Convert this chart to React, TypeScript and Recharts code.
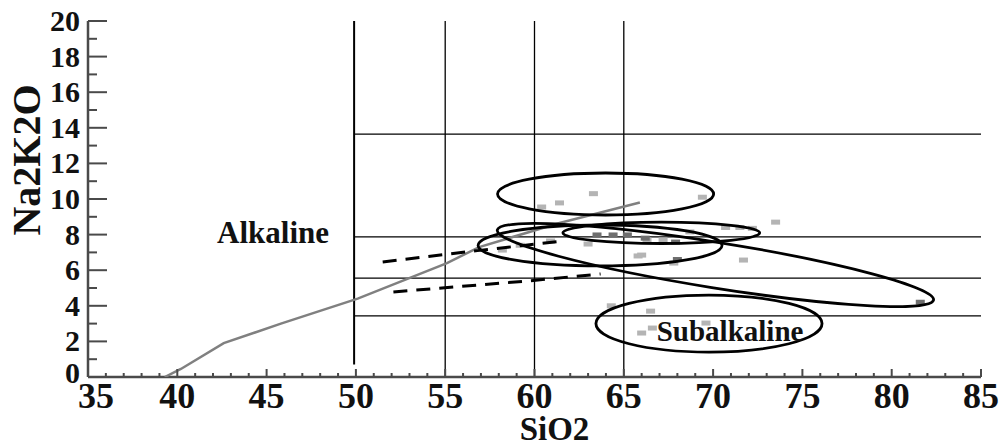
import React from 'react';
import { ComposedChart, Scatter, XAxis, YAxis, ReferenceLine } from 'recharts';

// chart frame
const W = 1000;
const H = 447;
const MARGIN = { top: 21, right: 19, left: 0, bottom: 0 };
const Y_AXIS_W = 88;
const X_AXIS_H = 70;
const X_DOMAIN: [number, number] = [35, 85];
const Y_DOMAIN: [number, number] = [0, 20];
const PLOT_W = W - MARGIN.left - MARGIN.right - Y_AXIS_W;
const PLOT_H = H - MARGIN.top - MARGIN.bottom - X_AXIS_H;
const PX_X = PLOT_W / (X_DOMAIN[1] - X_DOMAIN[0]);
const PX_Y = PLOT_H / (Y_DOMAIN[1] - Y_DOMAIN[0]);

const FONT = '"Liberation Serif", "Times New Roman", serif';

// ticks: labelled every 5 (x) / 2 (y), minor every 1
const xTicks: number[] = [];
for (let v = 35; v <= 85; v++) xTicks.push(v);
const yTicks: number[] = [];
for (let v = 0; v <= 20; v++) yTicks.push(v);

// alkaline / subalkaline boundary (grey curve)
const boundary = [
  { x: 39.3, y: 0 },
  { x: 40.2, y: 0.45 },
  { x: 42.6, y: 1.9 },
  { x: 45.8, y: 3.0 },
  { x: 50.1, y: 4.4 },
  { x: 55.1, y: 6.4 },
  { x: 56.9, y: 7.3 },
  { x: 61.4, y: 8.65 },
  { x: 65.9, y: 9.8 },
];

// dashed trend lines
const dashUpper = [
  { x: 51.5, y: 6.46 },
  { x: 56.8, y: 7.1 },
  { x: 61.6, y: 7.64 },
];
const dashLower = [
  { x: 52.1, y: 4.78 },
  { x: 59.6, y: 5.39 },
  { x: 63.7, y: 5.79 },
];

// frame lines
const vLines = [55, 60, 65];
const vLineMain = 49.9;
const hLines = [13.65, 7.87, 5.56, 3.43];

// grouping ellipses (centre, radii in data units, tilt in degrees)
const ellipses = [
  { x: 63.98, y: 10.28, rx: 6.05, ry: 1.18, angle: 0 },
  { x: 63.67, y: 7.39, rx: 6.83, ry: 1.15, angle: 0 },
  { x: 67.1, y: 8.1, rx: 5.51, ry: 0.6, angle: 0 },
  { x: 70.13, y: 6.29, rx: 12.37, ry: 1.28, angle: 9.1 },
  { x: 69.77, y: 3.0, rx: 6.33, ry: 1.6, angle: 0 },
];

// samples
const samplesLight = [
  { x: 63.3, y: 10.3 }, { x: 61.4, y: 9.78 }, { x: 60.4, y: 9.55 }, { x: 69.4, y: 10.1 },
  { x: 73.5, y: 8.7 }, { x: 60.9, y: 7.64 }, { x: 58.2, y: 7.13 }, { x: 65.8, y: 6.8 },
  { x: 63.0, y: 7.47 }, { x: 71.7, y: 6.57 }, { x: 67.8, y: 6.4 }, { x: 68.7, y: 8.15 },
  { x: 70.7, y: 8.4 }, { x: 71.5, y: 8.4 }, { x: 72.2, y: 8.35 }, { x: 66.3, y: 7.7 },
  { x: 67.2, y: 7.7 }, { x: 66.0, y: 6.85 }, { x: 64.3, y: 4.0 }, { x: 66.5, y: 3.7 },
  { x: 66.6, y: 2.75 }, { x: 66.0, y: 2.47 }, { x: 69.6, y: 3.03 }, { x: 59.2, y: 7.4 },
];
const samplesDark = [
  { x: 63.5, y: 7.98 }, { x: 64.4, y: 7.98 }, { x: 65.2, y: 7.98 }, { x: 66.2, y: 7.8 },
  { x: 68.0, y: 6.6 }, { x: 67.9, y: 7.58 }, { x: 81.6, y: 4.2 },
];

// field names
const fieldLabels = [
  { x: 45.36, y: 7.53, text: 'Alkaline', size: 31 },
  { x: 70.95, y: 2.02, text: 'Subalkaline', size: 29 },
];

const AXIS = '#4a4a4a';

function BottomTick({ x, y, payload }: any) {
  const v = payload.value;
  const major = v % 5 === 0;
  return (
    <g>
      <line x1={x} x2={x} y1={y} y2={y - (major ? 8 : 4)} stroke={AXIS} strokeWidth={2} />
      {major && (
        <text x={x + (v === 35 ? 8 : 0)} y={y + 31} textAnchor="middle" fontFamily={FONT} fontWeight="bold" fontSize={36} fill="#111">
          {v}
        </text>
      )}
    </g>
  );
}

function TopTick({ x, y, payload }: any) {
  const major = payload.value % 5 === 0;
  return <line x1={x} x2={x} y1={y} y2={y + (major ? 9 : 4)} stroke={AXIS} strokeWidth={2} />;
}

function LeftTick({ x, y, payload }: any) {
  const v = payload.value;
  const major = v % 2 === 0;
  return (
    <g>
      <line x1={x} x2={x + (major ? 19 : 9)} y1={y} y2={y} stroke={AXIS} strokeWidth={2} />
      {major && (
        <text x={x - 8} y={y + (v === 0 ? 6 : 10)} textAnchor="end" fontFamily={FONT} fontWeight="bold" fontSize={30} fill="#111">
          {v}
        </text>
      )}
    </g>
  );
}

function RightTick({ x, y, payload }: any) {
  const major = payload.value % 2 === 0;
  return <line x1={x} x2={x - (major ? 18 : 7)} y1={y} y2={y} stroke={AXIS} strokeWidth={2} />;
}

function EllipseShape({ cx, cy, payload }: any) {
  const rx = payload.rx * PX_X;
  const ry = payload.ry * PX_Y;
  return (
    <ellipse
      cx={cx}
      cy={cy}
      rx={rx}
      ry={ry}
      fill="none"
      stroke="#000"
      strokeWidth={2.8}
      transform={`rotate(${payload.angle}, ${cx}, ${cy})`}
    />
  );
}

const sampleShape = (fill: string) => ({ cx, cy }: any) => (
  <rect x={cx - 4.5} y={cy - 2.5} width={9} height={5} fill={fill} />
);

function FieldLabel({ cx, cy, payload }: any) {
  return (
    <text x={cx} y={cy} textAnchor="middle" fontFamily={FONT} fontWeight="bold" fontSize={payload.size} fill="#111">
      {payload.text}
    </text>
  );
}

const noDot = () => <g />;

export default function App() {
  return (
    <div style={{ position: 'absolute', left: 0, top: 0, background: '#fff' }}>
      <ComposedChart width={W} height={H} margin={MARGIN}>
        <XAxis
          xAxisId={0}
          type="number"
          dataKey="x"
          domain={X_DOMAIN}
          ticks={xTicks}
          interval={0}
          allowDataOverflow
          height={X_AXIS_H}
          tickSize={0}
          tickMargin={0}
          tickLine={false}
          tick={<BottomTick />}
          axisLine={{ stroke: AXIS, strokeWidth: 2.5 }}
          label={{
            content: ({ viewBox }: any) => (
              <text
                x={viewBox.x + viewBox.width / 2 + 20}
                y={viewBox.y + 63}
                textAnchor="middle"
                fontFamily={FONT}
                fontWeight="bold"
                fontSize={33}
                fill="#111"
              >
                SiO2
              </text>
            ),
          }}
        />
        <XAxis
          xAxisId="top"
          orientation="top"
          type="number"
          dataKey="x"
          domain={X_DOMAIN}
          ticks={xTicks}
          interval={0}
          height={0}
          tickSize={0}
          tickMargin={0}
          tickLine={false}
          tick={<TopTick />}
          axisLine={{ stroke: '#777', strokeWidth: 2.5 }}
        />
        <YAxis
          yAxisId={0}
          type="number"
          dataKey="y"
          domain={Y_DOMAIN}
          ticks={yTicks}
          interval={0}
          allowDataOverflow
          width={Y_AXIS_W}
          tickSize={0}
          tickMargin={0}
          tickLine={false}
          tick={<LeftTick />}
          axisLine={{ stroke: AXIS, strokeWidth: 2.5 }}
          label={{
            content: ({ viewBox }: any) => {
              const cx = viewBox.x + 26;
              const cy = viewBox.y + viewBox.height / 2 - 39;
              return (
                <text
                  x={cx}
                  y={cy}
                  transform={`rotate(-90, ${cx}, ${cy})`}
                  textAnchor="middle"
                  dominantBaseline="central"
                  fontFamily={FONT}
                  fontWeight="bold"
                  fontSize={40}
                  fill="#111"
                >
                  Na2K2O
                </text>
              );
            },
          }}
        />
        <YAxis
          yAxisId="right"
          orientation="right"
          type="number"
          dataKey="y"
          domain={Y_DOMAIN}
          ticks={yTicks}
          interval={0}
          width={0}
          tickSize={0}
          tickMargin={0}
          tickLine={false}
          tick={<RightTick />}
          axisLine={{ stroke: AXIS, strokeWidth: 2.5 }}
        />

        <ReferenceLine
          segment={[{ x: vLineMain, y: 0.7 }, { x: vLineMain, y: 20 }]}
          stroke="#000"
          strokeWidth={2}
          ifOverflow="visible"
        />
        {vLines.map((v) => (
          <ReferenceLine key={`v${v}`} segment={[{ x: v, y: 0 }, { x: v, y: 20 }]} stroke="#000" strokeWidth={1.3} ifOverflow="visible" />
        ))}
        {hLines.map((h) => (
          <ReferenceLine key={`h${h}`} segment={[{ x: vLineMain, y: h }, { x: 85, y: h }]} stroke="#000" strokeWidth={1.3} ifOverflow="visible" />
        ))}

        <Scatter data={samplesLight} dataKey="y" shape={sampleShape('#b4b4b4')} isAnimationActive={false} />
        <Scatter data={samplesDark} dataKey="y" shape={sampleShape('#6e6e6e')} isAnimationActive={false} />

        <Scatter
          data={boundary}
          dataKey="y"
          line={{ stroke: '#808080', strokeWidth: 2.5 }}
          shape={noDot}
          isAnimationActive={false}
        />
        <Scatter
          data={dashUpper}
          dataKey="y"
          line={{ stroke: '#000', strokeWidth: 3, strokeDasharray: '14 9' }}
          shape={noDot}
          isAnimationActive={false}
        />
        <Scatter
          data={dashLower}
          dataKey="y"
          line={{ stroke: '#000', strokeWidth: 3, strokeDasharray: '14 9' }}
          shape={noDot}
          isAnimationActive={false}
        />

        <Scatter data={ellipses} dataKey="y" shape={<EllipseShape />} isAnimationActive={false} />
        <Scatter data={fieldLabels} dataKey="y" shape={<FieldLabel />} isAnimationActive={false} />
      </ComposedChart>
    </div>
  );
}
